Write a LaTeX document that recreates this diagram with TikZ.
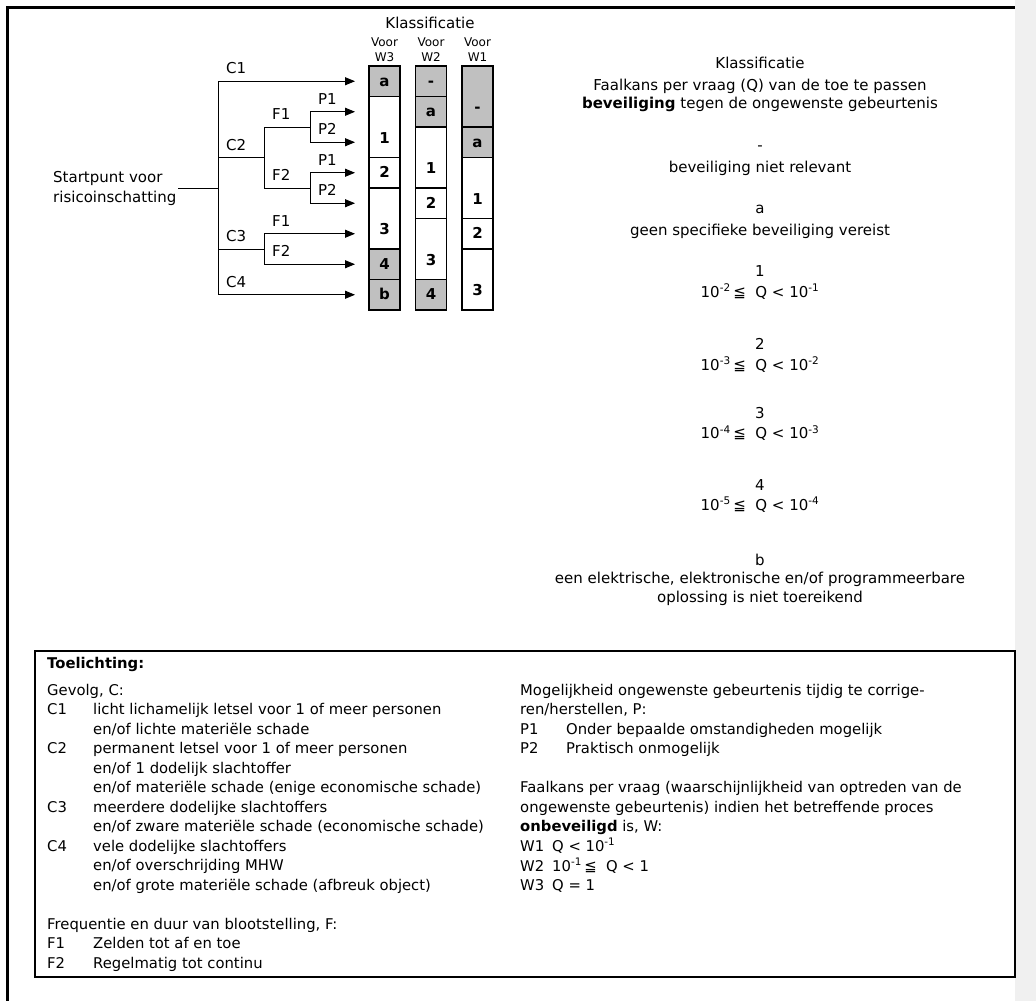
\documentclass[tikz,border=0pt]{standalone}
\usepackage{fontspec}
\setmainfont{DejaVu Sans}
\usepackage{tikz}
\usetikzlibrary{arrows.meta}
\definecolor{celgrijs}{RGB}{192,192,192}
\definecolor{randgrijs}{RGB}{240,240,240}
\tikzstyle{tak} = [line width=0.9pt]
\tikzstyle{arrow} = [line width=0.9pt,->,>={Triangle[length=10pt,width=8pt]}]
\tikzstyle{cel} = [draw,line width=1.3pt]
\tikzstyle{lab} = [anchor=base west,inner sep=0pt,font=\fontsize{15}{18}\selectfont]
\tikzstyle{uitleg} = [anchor=base west,inner sep=0pt,font=\fontsize{14.8}{18}\selectfont]
\tikzstyle{midden} = [anchor=base,inner sep=0pt,font=\fontsize{15}{18}\selectfont]
\tikzstyle{celtekst} = [anchor=base,inner sep=0pt,font=\fontsize{15}{18}\selectfont\bfseries]

\begin{document}
\begin{tikzpicture}[x=1pt,y=-1pt]
\useasboundingbox (0,0) rectangle (1036,1001);
\fill[randgrijs] (1015,0) rectangle (1036,1001);
\draw[line width=3pt] (7,1001) -- (7,7) -- (1015,7);

% kolomkoppen
\node[midden] (klas) at (430,28) {Klassificatie};
\foreach \x/\w in {384.5/3,431/2,477.5/1}
  \node[align=center,inner sep=0pt,font=\fontsize{12}{15}\selectfont] (kop\w) at (\x,49.5) {Voor\\W\w};

% kolommen W3, W2, W1
\foreach \xl/\ra/\rb/\kleur/\tekst/\naam in {
  369/1/1/celgrijs/a/w3a, 369/2/3/white/1/w3b, 369/4/4/white/2/w3c,
  369/5/6/white/3/w3d, 369/7/7/celgrijs/4/w3e, 369/8/8/celgrijs/b/w3f,
  415.5/1/1/celgrijs/-/w2a, 415.5/2/2/celgrijs/a/w2b, 415.5/3/4/white/1/w2c,
  415.5/5/5/white/2/w2d, 415.5/6/7/white/3/w2e, 415.5/8/8/celgrijs/4/w2f,
  462/1/2/celgrijs/-/w1a, 462/3/3/celgrijs/a/w1b, 462/4/5/white/1/w1c,
  462/6/6/white/2/w1d, 462/7/8/white/3/w1e}
{
  \pgfmathsetmacro{\ya}{66+30.5*(\ra-1)}
  \pgfmathsetmacro{\yb}{66+30.5*\rb}
  \pgfmathsetmacro{\xr}{\xl+31}
  \pgfmathsetmacro{\xm}{\xl+15.5}
  \pgfmathsetmacro{\yl}{(\ra==\rb) ? (\ya+\yb)/2+5 : \yb-14.25}
  \draw[cel,fill=\kleur] (\xl,\ya) rectangle (\xr,\yb);
  \node[celtekst] (\naam) at (\xm,\yl) {\tekst};
}

% beslisboom
\node[align=left,anchor=west,inner sep=0pt,font=\fontsize{15}{20}\selectfont] (start) at (53,188) {Startpunt voor\\risicoinschatting};
\coordinate (s0) at (178,188);
\coordinate (j0) at (218,188);
\coordinate (c2) at (218,157.5);
\coordinate (c3) at (218,249);
\coordinate (f0) at (264,157.5);
\coordinate (f1) at (264,127);
\coordinate (f2) at (264,188);
\coordinate (g0) at (264,249);
\coordinate (p1) at (310,127);
\coordinate (p2) at (310,188);
\foreach \i in {1,...,8}
  \coordinate (t\i) at (355,{66+30.5*(\i-0.5)});

\draw[tak] (s0) -- (j0);
\draw[arrow] (j0) |- (t1);
\draw[arrow] (j0) |- (t8);
\draw[tak] (c2) -- (f0);
\draw[tak] (f1) -- (f2);
\draw[tak] (f1) -- (p1);
\draw[tak] (f2) -- (p2);
\draw[arrow] (p1) |- (t2);
\draw[arrow] (p1) |- (t3);
\draw[arrow] (p2) |- (t4);
\draw[arrow] (p2) |- (t5);
\draw[tak] (c3) -- (g0);
\draw[arrow] (g0) |- (t6);
\draw[arrow] (g0) |- (t7);

\node[lab] (lc1) at (226,73.75) {C1};
\node[lab] (lc2) at (226,150) {C2};
\node[lab] (lc3) at (226,241.5) {C3};
\node[lab] (lc4) at (226,287.25) {C4};
\node[lab] (lf1) at (272,119.5) {F1};
\node[lab] (lf2) at (272,180.5) {F2};
\node[lab] (lf3) at (272,226.25) {F1};
\node[lab] (lf4) at (272,256.75) {F2};
\node[lab] (lp1) at (318,104.25) {P1};
\node[lab] (lp2) at (318,134.75) {P2};
\node[lab] (lp3) at (318,165.25) {P1};
\node[lab] (lp4) at (318,195.75) {P2};

% verklaring klassen
\foreach \y/\t [count=\i] in {
  68/Klassificatie,
  90/Faalkans per vraag (Q) van de toe te passen,
  108.5/{\textbf{beveiliging} tegen de ongewenste gebeurtenis},
  150.5/-,
  172/beveiliging niet relevant,
  213.5/a,
  235/geen specifieke beveiliging vereist,
  276/1,
  297/{10\textsuperscript{-2}\,≦\ \ Q < 10\textsuperscript{-1}},
  349/2,
  370/{10\textsuperscript{-3}\,≦\ \ Q < 10\textsuperscript{-2}},
  418.5/3,
  438.5/{10\textsuperscript{-4}\,≦\ \ Q < 10\textsuperscript{-3}},
  490/4,
  510/{10\textsuperscript{-5}\,≦\ \ Q < 10\textsuperscript{-4}},
  565/b,
  583.5/{een elektrische, elektronische en/of programmeerbare},
  602/oplossing is niet toereikend}
  \node[midden] (r\i) at (760,\y) {\t};

% toelichting
\draw[line width=2pt] (35,651) rectangle (1015,977);
\node[uitleg,font=\fontsize{14.8}{18}\selectfont\bfseries] (toel) at (47,668) {Toelichting:};
\foreach \y/\c/\t [count=\i] in {
  695/{Gevolg, C:}/{},
  714.5/C1/{licht lichamelijk letsel voor 1 of meer personen},
  734/{}/{en/of lichte materiële schade},
  753.5/C2/{permanent letsel voor 1 of meer personen},
  773/{}/{en/of 1 dodelijk slachtoffer},
  792.5/{}/{en/of materiële schade (enige economische schade)},
  812/C3/{meerdere dodelijke slachtoffers},
  831.5/{}/{en/of zware materiële schade (economische schade)},
  851/C4/{vele dodelijke slachtoffers},
  870.5/{}/{en/of overschrijding MHW},
  890/{}/{en/of grote materiële schade (afbreuk object)},
  929/{Frequentie en duur van blootstelling, F:}/{},
  948.5/F1/{Zelden tot af en toe},
  968/F2/{Regelmatig tot continu}}
{
  \node[uitleg] (lk\i) at (47,\y) {\c};
  \node[uitleg] (lt\i) at (93,\y) {\t};
}
\foreach \y/\c/\x/\t [count=\i] in {
  695/{Mogelijkheid ongewenste gebeurtenis tijdig te corrige-}/566/{},
  714.5/{ren/herstellen, P:}/566/{},
  734/P1/566/{Onder bepaalde omstandigheden mogelijk},
  753.5/P2/566/{Praktisch onmogelijk},
  792.5/{Faalkans per vraag (waarschijnlijkheid van optreden van de}/566/{},
  812/{ongewenste gebeurtenis) indien het betreffende proces}/566/{},
  831.5/{\textbf{onbeveiligd} is, W:}/566/{},
  851/W1/552/{Q < 10\textsuperscript{-1}},
  871/W2/552/{10\textsuperscript{-1}\,≦\ \ Q < 1},
  890/W3/552/{Q = 1}}
{
  \node[uitleg] (rk\i) at (520,\y) {\c};
  \node[uitleg] (rt\i) at (\x,\y) {\t};
}
\end{tikzpicture}
\end{document}
